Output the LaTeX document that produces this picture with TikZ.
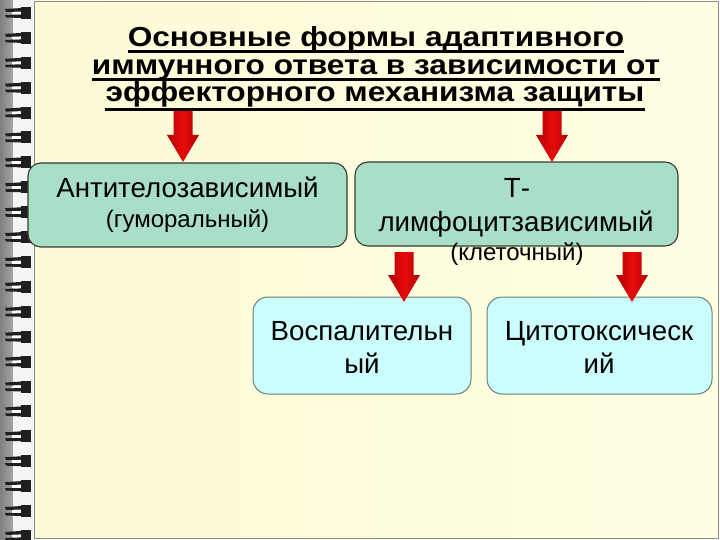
\documentclass[tikz,border=0pt]{standalone}
\usepackage{fontspec}
\setmainfont{Liberation Sans}
\newfontfamily\titlefont[FakeStretch=1.15]{Liberation Sans}
\definecolor{pagecl}{RGB}{253,250,214}
\definecolor{pagecr}{RGB}{255,255,228}
\definecolor{mint}{RGB}{168,223,198}
\definecolor{cyanbox}{RGB}{204,253,253}
\definecolor{arrdark}{RGB}{175,0,0}
\definecolor{arrlight}{RGB}{232,12,12}
\tikzset{
  greenbox/.style={draw={rgb,255:red,55;green,60;blue,55}, line width=1.1pt, fill=mint, rounded corners=13pt, inner sep=0pt},
  cyanbx/.style={draw={rgb,255:red,110;green,125;blue,125}, line width=1pt, fill=cyanbox, rounded corners=15pt, inner sep=0pt},
  boxtext/.style={anchor=base, inner sep=0pt, font=\fontsize{27.7}{32}\selectfont},
  smalltext/.style={anchor=base, inner sep=0pt, font=\fontsize{24}{28}\selectfont},
  titletext/.style={anchor=base, inner sep=0pt, font=\titlefont\bfseries\fontsize{27.5}{32}\selectfont},
  uline/.style={line width=2.8pt},
  arrowshade/.style={left color=arrdark, right color=arrdark, middle color=arrlight},
  ringfill/.style={fill=black!88}
}
\newcommand{\blockarrow}[3]{%
  \shade[arrowshade] (#1-9.5,#2) -- (#1+9.5,#2) -- (#1+9.5,#3-27) -- (#1+16,#3-27) -- (#1,#3) -- (#1-16,#3-27) -- (#1-9.5,#3-27) -- cycle;}
\begin{document}
\begin{tikzpicture}[x=1pt,y=-1pt]
\useasboundingbox (0,0) rectangle (720,540);
% binding strip
\shade[left color=black!50, right color=black!35] (0,0) rectangle (13,540);
\fill[black!4] (13,0) rectangle (34,540);
\fill[white] (718,0) rectangle (720,540);
% page
\shade[left color=pagecl, right color=pagecr] (34,1) rectangle (718,538);
\draw[black!45, line width=0.8pt] (34,1) rectangle (718,538);
% rings
\foreach \k in {0,...,21}{
  \pgfmathsetmacro\yy{13+24.9*\k}
  \fill[ringfill] (5,\yy-4) -- (22,\yy-5) -- (22,\yy-1.5) -- (6,\yy-1) -- cycle;
  \fill[ringfill] (5,\yy+2) -- (22,\yy+1.5) -- (22,\yy+5) -- (6,\yy+4.5) -- cycle;
  \fill[ringfill] (21,\yy-6) rectangle (31,\yy+6);
  \fill[white] (12,\yy-1) rectangle (21,\yy+1.5);
}
% title
\node[titletext] (t1) at (376,47) {Основные формы адаптивного};
\node[titletext] (t2) at (376,75) {иммунного ответа в зависимости от};
\node[titletext] (t3) at (375,102) {эффекторного механизма защиты};
\draw[uline] ([yshift=-4.5pt]t1.base west) -- ([yshift=-4.5pt]t1.base east);
\draw[uline] ([yshift=-4.5pt]t2.base west) -- ([yshift=-4.5pt]t2.base east);
\draw[uline] ([yshift=-7.5pt]t3.base west) -- ([yshift=-7.5pt]t3.base east);
% boxes
\node[greenbox, minimum width=319pt, minimum height=84pt] (A) at (187.5,205) {};
\node[greenbox, minimum width=323pt, minimum height=84pt] (B) at (516.5,204) {};
\node[cyanbx, minimum width=218pt, minimum height=97pt] (C) at (362,345.5) {};
\node[cyanbx, minimum width=225pt, minimum height=97pt] (D) at (599.5,345.5) {};
% box texts
\node[boxtext] (a1) at (187.5,198) {Антителозависимый};
\node[smalltext] (a2) at (187.5,227) {(гуморальный)};
\node[boxtext] (b1) at (517,197) {Т-};
\node[boxtext] (b2) at (516,232) {лимфоцитзависимый};
\node[smalltext] (b3) at (517,260) {(клеточный)};
\node[boxtext] (c1) at (362,340) {Воспалительн};
\node[boxtext] (c2) at (362,373) {ый};
\node[boxtext] (d1) at (599,340) {Цитотоксическ};
\node[boxtext] (d2) at (599,373) {ий};
% arrows
\blockarrow{183}{111}{162}
\blockarrow{552}{111}{162}
\blockarrow{404}{252}{302}
\blockarrow{632}{252}{302}
\end{tikzpicture}
\end{document}
